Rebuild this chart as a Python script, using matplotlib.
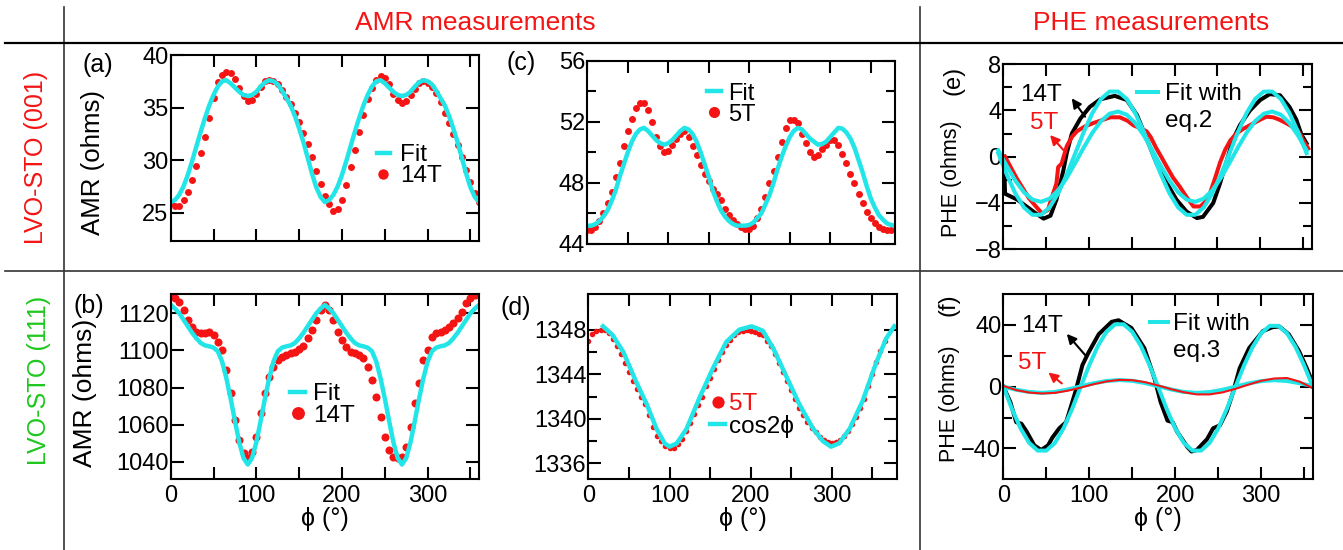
## AMR / PHE panels for LVO-STO films
import numpy as np
import matplotlib
matplotlib.use("Agg")
import matplotlib.pyplot as plt
from matplotlib.lines import Line2D
from matplotlib.ticker import MultipleLocator, FixedLocator

plt.rcParams['font.family'] = ['Liberation Sans', 'DejaVu Sans']

RED = '#f41414'
CYAN = '#22e5e8'
GREEN = '#1ec81e'

## ---------------- data ----------------
# (a) LVO-STO (001), AMR, 14T
phi_a = np.arange(0, 361, 5)
amr_a_14T = [25.9, 25.6, 25.6, 26.2, 27.0, 28.1, 29.4, 30.7, 32.2, 34.0, 35.9, 37.4, 38.1, 38.4, 38.3,
             37.7, 36.9, 36.1, 35.6, 35.7, 36.3, 37.0, 37.5, 37.6, 37.5, 37.2, 36.7, 36.0, 35.3, 34.5,
             33.6, 32.6, 31.5, 30.3, 29.0, 27.7, 26.6, 25.8, 25.2, 25.3, 26.2, 27.6, 29.3, 31.0, 32.7,
             34.3, 35.8, 36.9, 37.6, 38.0, 37.8, 37.2, 36.3, 35.7, 35.4, 35.6, 36.2, 36.8, 37.3, 37.5,
             37.3, 37.0, 36.4, 35.5, 34.5, 33.5, 32.5, 31.4, 30.3, 29.1, 27.9, 26.9, 26.0]
amr_a_fit = [26.0, 26.2, 26.7, 27.5, 28.6, 29.9, 31.3, 32.7, 34.0, 35.2, 36.2, 37.0, 37.5, 37.6, 37.3,
             36.9, 36.5, 36.2, 36.1, 36.2, 36.5, 37.0, 37.4, 37.6, 37.5, 37.2, 36.6, 35.9, 35.2, 34.2,
             33.0, 31.7, 30.2, 28.7, 27.4, 26.5, 26.0, 26.2, 26.7, 27.5, 28.6, 29.9, 31.3, 32.7, 34.0,
             35.2, 36.2, 37.0, 37.5, 37.6, 37.3, 36.9, 36.5, 36.2, 36.1, 36.2, 36.5, 37.0, 37.4, 37.6,
             37.5, 37.2, 36.6, 35.9, 35.2, 34.2, 33.0, 31.7, 30.2, 28.7, 27.4, 26.5, 26.0]

# (b) LVO-STO (111), AMR, 14T
phi_b = np.arange(0, 361, 5)
amr_b_14T = [1129.9, 1128.0, 1126.3, 1121.8, 1116.4, 1112.8, 1110.1, 1109.2, 1109.2, 1110.0, 1108.3,
             1104.7, 1100.2, 1089.4, 1076.9, 1062.5, 1051.7, 1044.5, 1041.8, 1045.4, 1053.5, 1066.1,
             1076.9, 1085.8, 1091.2, 1094.8, 1096.6, 1097.5, 1098.4, 1099.3, 1100.6, 1102.4, 1106.5,
             1111.0, 1116.4, 1121.8, 1124.5, 1121.8, 1116.4, 1110.1, 1105.6, 1102.0, 1099.3, 1098.4,
             1097.5, 1095.7, 1091.2, 1084.0, 1075.0, 1064.3, 1053.5, 1046.3, 1042.7, 1041.8, 1042.7,
             1048.1, 1058.9, 1071.5, 1082.2, 1094.8, 1100.2, 1107.4, 1109.2, 1110.1, 1111.0, 1112.8,
             1114.6, 1117.3, 1120.9, 1125.4, 1128.1, 1129.9, 1130.4]
amr_b_fit = [1124.5, 1122.5, 1120.0, 1116.5, 1113.0, 1109.5, 1106.5, 1104.0, 1102.7, 1102.2, 1101.5,
             1099.5, 1094.0, 1085.0, 1074.0, 1062.0, 1050.5, 1042.0, 1038.5, 1042.0, 1050.5, 1062.0,
             1074.0, 1085.0, 1094.0, 1099.5, 1101.5, 1102.2, 1102.7, 1104.0, 1106.5, 1109.5, 1113.0,
             1116.5, 1120.0, 1122.5, 1124.5, 1122.5, 1120.0, 1116.5, 1113.0, 1109.5, 1106.5, 1104.0,
             1102.7, 1102.2, 1101.5, 1099.5, 1094.0, 1085.0, 1074.0, 1062.0, 1050.5, 1042.0, 1038.5,
             1042.0, 1050.5, 1062.0, 1074.0, 1085.0, 1094.0, 1099.5, 1101.5, 1102.2, 1102.7, 1104.0,
             1106.5, 1109.5, 1113.0, 1116.5, 1120.0, 1122.5, 1124.5]

# (c) LVO-STO (001), AMR, 5T
phi_c = np.arange(0, 376, 5)
amr_c_5T = [44.9, 44.9, 45.1, 45.5, 46.0, 46.7, 47.4, 48.4, 49.3, 50.4, 51.4, 52.2, 52.9, 53.2, 53.2,
            52.8, 52.0, 51.0, 50.4, 50.0, 50.1, 50.5, 50.9, 51.2, 51.4, 51.0, 50.4, 49.8, 49.2, 48.6,
            48.1, 47.6, 47.3, 46.9, 46.3, 45.9, 45.6, 45.3, 45.1, 45.0, 45.0, 45.2, 45.7, 46.3, 47.1,
            48.0, 48.8, 49.7, 50.7, 51.6, 52.1, 52.1, 51.9, 51.2, 50.6, 50.0, 49.7, 49.8, 50.2, 50.5,
            50.8, 50.8, 50.5, 49.9, 49.3, 48.6, 48.0, 47.3, 46.7, 46.1, 45.7, 45.4, 45.1, 45.0, 44.9,
            44.9]
phi_c_fit = np.arange(0, 381, 5)
amr_c_fit = [45.2, 45.2, 45.3, 45.5, 45.8, 46.2, 46.8, 47.5, 48.4, 49.2, 50.0, 50.7, 51.2, 51.5, 51.6,
             51.4, 51.1, 50.8, 50.6, 50.5, 50.6, 50.8, 51.1, 51.4, 51.6, 51.5, 51.2, 50.7, 50.0, 49.2,
             48.4, 47.5, 46.8, 46.2, 45.8, 45.5, 45.3, 45.2, 45.2, 45.2, 45.25, 45.4, 45.7, 46.0, 46.6,
             47.2, 48.0, 48.9, 49.7, 50.4, 51.0, 51.4, 51.6, 51.5, 51.2, 50.9, 50.7, 50.5, 50.55, 50.7,
             51.0, 51.3, 51.6, 51.55, 51.3, 50.9, 50.3, 49.5, 48.7, 47.8, 47.0, 46.4, 45.9, 45.6, 45.35,
             45.25, 45.2]

# (d) LVO-STO (111), AMR, 5T with cos2phi
phi_d = np.arange(0, 366, 5)
amr_d_5T = [1347.0, 1347.6, 1347.9, 1348.0, 1348.0, 1347.7, 1347.2, 1346.5, 1345.8, 1345.0, 1344.2,
            1343.4, 1342.7, 1342.0, 1341.3, 1340.3, 1339.3, 1338.5, 1338.0, 1337.6, 1337.4, 1337.4,
            1337.7, 1338.2, 1338.9, 1339.6, 1340.4, 1341.2, 1342.0, 1342.9, 1343.7, 1344.5, 1345.3,
            1346.0, 1346.6, 1347.1, 1347.5, 1347.8, 1347.9, 1348.0, 1347.9, 1347.8, 1347.6, 1347.5,
            1347.0, 1346.5, 1345.8, 1345.0, 1344.2, 1343.4, 1342.6, 1341.8, 1341.0, 1340.3, 1339.7,
            1339.2, 1338.8, 1338.4, 1338.1, 1337.9, 1337.8, 1337.9, 1338.1, 1338.5, 1338.9, 1339.5,
            1340.2, 1341.0, 1341.8, 1342.9, 1344.0, 1345.1, 1346.1, 1347.0]
phi_d_fit = [18, 30, 43, 59, 72, 84, 94, 100, 109, 121, 137, 154, 170, 186, 201, 215, 228, 244, 260,
             277, 289, 299, 309, 322, 338, 354, 367, 377]
amr_d_fit = [1348.3, 1347.5, 1346.0, 1343.3, 1341.3, 1339.1, 1337.8, 1337.5, 1337.8, 1339.1, 1341.9,
             1344.6, 1346.9, 1348.0, 1348.3, 1347.9, 1346.3, 1343.8, 1341.3, 1339.1, 1338.0, 1337.5,
             1337.8, 1339.1, 1341.6, 1344.9, 1347.2, 1348.3]

# (e) LVO-STO (001), PHE
phi_e_14T = [0, 1, 2, 16, 27, 38, 47, 55, 62, 70, 74, 80, 90, 101, 113, 130, 144, 156, 167, 179, 191,
             202, 214, 226, 233, 245, 253, 261, 268, 276, 288, 300, 311, 323, 334, 342, 348, 354]
phe_e_14T = [0.0, -0.9, -3.2, -3.7, -4.3, -4.9, -5.35, -5.1, -3.7, -1.2, 0.3, 2.0, 3.3, 4.3, 4.95,
             5.25, 4.9, 3.6, 1.6, -0.6, -2.3, -3.7, -4.75, -5.3, -5.2, -4.0, -2.3, -0.3, 1.45, 2.7,
             4.0, 4.9, 5.4, 5.3, 4.3, 3.2, 1.9, 1.15]
phi_e_5T = [2, 15, 30, 45, 52, 58, 62, 64, 68, 74, 80, 86, 95, 105, 125, 136, 145, 152, 160, 167, 172,
            178, 185, 191, 198, 206, 214, 222, 230, 237, 241, 247, 253, 259, 265, 272, 280, 290, 300,
            307, 315, 322, 330, 337, 342, 347, 350, 356]
phe_e_5T = [0.0, -1.8, -3.6, -4.9, -4.6, -3.2, -2.3, -0.9, -0.6, 0.9, 1.7, 2.2, 2.6, 2.9, 3.4, 3.4,
            3.1, 2.7, 2.45, 2.2, 1.7, 0.8, -0.1, -0.9, -1.8, -2.6, -3.5, -4.3, -4.3, -3.8, -3.2, -1.9,
            -0.5, 0.6, 1.4, 2.0, 2.4, 2.8, 3.2, 3.45, 3.4, 3.2, 2.9, 2.6, 2.4, 1.9, 1.4, 0.7]
phi_e_fit = np.arange(-6, 355, 10)
phe_e_fit14 = [0.3, -1.55, -3.17, -4.38, -5.02, -5.02, -4.38, -3.17, -1.55, 0.3, 2.15, 3.77, 4.98,
               5.62, 5.62, 4.98, 3.77, 2.15, 0.3, -1.55, -3.17, -4.38, -5.02, -5.02, -4.38, -3.17,
               -1.55, 0.3, 2.15, 3.77, 4.98, 5.62, 5.62, 4.98, 3.77, 2.15, 0.3]
phe_e_fit5 = [0.54, -0.81, -2.07, -3.07, -3.71, -3.90, -3.62, -2.90, -1.83, -0.54, 0.81, 2.07, 3.07,
              3.71, 3.90, 3.62, 2.90, 1.83, 0.54, -0.81, -2.07, -3.07, -3.71, -3.90, -3.62, -2.90,
              -1.83, -0.54, 0.81, 2.07, 3.07, 3.71, 3.90, 3.62, 2.90, 1.83, 0.54]

# (f) LVO-STO (111), PHE
phi_f_14T = [0, 8, 15, 21, 27, 36, 44, 52, 57, 65, 73, 78, 84, 92, 99, 111, 126, 134, 149, 164, 176,
             183, 191, 197, 202, 214, 219, 225, 237, 244, 252, 260, 267, 275, 286, 302, 313, 321,
             332, 344, 353, 358]
phe_f_14T = [0, -9.8, -23, -24, -29, -38, -41, -38, -33, -27, -23, -14, -3, 14, 22, 34, 42, 43, 38,
             25, 5, -10, -22, -23, -29, -39, -42, -41, -34, -27, -25, -16, -4, 12, 25, 36, 38.5, 39,
             34, 23, 12, 5]
phi_f_fit = np.arange(0, 361, 10)
phe_f_fit14 = [0, -14.4, -27.0, -36.4, -41.4, -41.4, -36.4, -27.0, -14.4, 0, 14.0, 26.4, 35.5, 40.4,
               40.4, 35.5, 26.4, 14.0, 0, -14.4, -27.0, -36.4, -41.4, -41.4, -36.4, -27.0, -14.4, 0,
               13.7, 25.7, 34.6, 39.4, 39.4, 34.6, 25.7, 13.7, 0]
phi_f_5T = np.arange(0, 361, 15)
phe_f_5T = [0.5, -2.2, -3.8, -4.4, -4.0, -2.6, -0.6, 1.6, 3.4, 4.4, 4.2, 2.9, 0.8, -1.6, -3.6, -5.0,
            -5.0, -3.7, -1.4, 1.3, 3.8, 5.3, 5.6, 3.2, -1.0]
phe_f_fit5 = [0.0, -2.0, -3.4, -4.0, -3.4, -1.8, 0.2, 2.2, 3.7, 4.3, 3.8, 2.3, 0.3, -1.8, -3.4, -4.0,
              -3.5, -2.0, 0.0, 2.1, 3.6, 4.2, 3.7, 2.2, 0.4]

## ---------------- figure ----------------
TFS = 17      # tick labels
LFS = 17.5    # legends / annotations
fig = plt.figure(figsize=(13.43, 5.5), dpi=100)

def make_axes(rect, xmax, ylim, ymajor, yminor=None, xlabels=True):
    ax = fig.add_axes(rect)
    ax.set_xlim(0, xmax)
    ax.set_ylim(*ylim)
    ax.xaxis.set_major_locator(FixedLocator([0, 100, 200, 300]))
    ax.xaxis.set_minor_locator(MultipleLocator(50))
    ax.yaxis.set_major_locator(FixedLocator(ymajor))
    if yminor is not None:
        ax.yaxis.set_minor_locator(FixedLocator(yminor))
    ax.tick_params(which='both', direction='in', top=True, right=True, width=1.5,
                   labelsize=TFS, labelbottom=xlabels)
    ax.tick_params(axis='y', which='major', length=9.5, pad=1.5)
    ax.tick_params(axis='y', which='minor', length=6.5)
    ax.tick_params(axis='x', which='both', length=8.5, pad=4)
    for s in ax.spines.values():
        s.set_linewidth(1.5)
    if xlabels:
        ax.set_xlabel('ϕ (°)', fontsize=18, labelpad=0)
    return ax

def side_text(ax, x, y, s, rot=90, size=18, **kw):
    ax.text(x, y, s, transform=ax.transAxes, rotation=rot, ha='center', va='center',
            fontsize=size, **kw)

def fit_legend(ax, handles, labels, anchor, hl, pad, spacing, mscale=1.0, size=LFS):
    leg = ax.legend(handles, labels, loc='upper left', bbox_to_anchor=anchor, frameon=False,
                    borderpad=0, borderaxespad=0, handlelength=hl, handletextpad=pad,
                    labelspacing=spacing, fontsize=size, markerscale=mscale)
    return leg

def arrow(ax, head, tail, color):
    ax.annotate('', xy=head, xytext=tail,
                arrowprops=dict(arrowstyle='-|>', color=color, lw=1.5, mutation_scale=14,
                                shrinkA=0, shrinkB=0))

## (a)
ax = make_axes([0.1271, 0.5618, 0.2296, 0.3382], 360, (22.3, 40), [25, 30, 35, 40], xlabels=False)
d, = ax.plot(phi_a, amr_a_14T, 'o', color=RED, ms=5, mew=0)
f, = ax.plot(phi_a, amr_a_fit, '-', color=CYAN, lw=3.2)
fit_legend(ax, [f, d], ['Fit', '14T'], (0.668, 0.52), 0.55, 0.41, -0.04, 1.5)
side_text(ax, -0.252, 0.422, 'AMR (ohms)', size=18.6)
side_text(ax, -0.236, 0.948, '(a)', rot=0)

## (b)
ax = make_axes([0.1271, 0.1291, 0.2296, 0.3364], 360, (1030.7, 1130.4),
               [1040, 1060, 1080, 1100, 1120])
d, = ax.plot(phi_b, amr_b_14T, 'o', color=RED, ms=5.8, mew=0)
f, = ax.plot(phi_b, amr_b_fit, '-', color=CYAN, lw=3.2)
fit_legend(ax, [f, d], ['Fit', '14T'], (0.387, 0.518), 0.62, 0.34, -0.01, 1.6)
side_text(ax, -0.278, 0.465, 'AMR (ohms)', size=19)
side_text(ax, -0.265, 0.935, '(b)', rot=0)

## (c)
ax = make_axes([0.4373, 0.5564, 0.2291, 0.3333], 380, (44, 56), [44, 48, 52, 56], [46, 50, 54],
               xlabels=False)
d, = ax.plot(phi_c, amr_c_5T, 'o', color=RED, ms=5, mew=0)
f, = ax.plot(phi_c_fit, amr_c_fit, '-', color=CYAN, lw=3.2)
fit_legend(ax, [f, d], ['Fit', '5T'], (0.388, 0.88), 0.62, 0.27, -0.04, 1.6, size=17)
side_text(ax, -0.215, 0.987, '(c)', rot=0)

## (d)
ax = make_axes([0.4381, 0.1291, 0.2296, 0.3364], 380, (1334.6, 1351.2),
               [1336, 1340, 1344, 1348], [1338, 1342, 1346])
d, = ax.plot(phi_d, amr_d_5T, 'o', color=RED, ms=4, mew=0)
f, = ax.plot(phi_d_fit, amr_d_fit, '-', color=CYAN, lw=3.2)
leg = fit_legend(ax, [d, f], ['5T', 'cos2ϕ'], (0.395, 0.464), 0.62, 0.14, -0.01, 2.2)
leg.get_texts()[0].set_color(RED)
side_text(ax, -0.234, 0.924, '(d)', rot=0)

## (e)
ax = make_axes([0.7471, 0.5467, 0.2296, 0.3369], 360, (-8, 8), [-8, -4, 0, 4, 8], [-6, -2, 2, 6],
               xlabels=False)
ax.plot(phi_e_14T, phe_e_14T, '-', color='k', lw=2.9)
ax.plot(phi_e_5T, phe_e_5T, '-', color=RED, lw=2.9)
f, = ax.plot(phi_e_fit, phe_e_fit14, '-', color=CYAN, lw=2.9, clip_on=False)
ax.plot(phi_e_fit, phe_e_fit5, '-', color=CYAN, lw=2.9, clip_on=False)
blank = Line2D([], [], linestyle='none')
fit_legend(ax, [f, blank], ['Fit with', 'eq.2'], (0.4325, 0.896), 0.89, 0.27, 0.19)
arrow(ax, (79.8, 5.04), (95.4, 3.45), 'k')
arrow(ax, (54.5, 1.87), (70, 0.58), RED)
ax.text(43.4, 5.3, '14T', ha='center', va='center', fontsize=LFS)
ax.text(47.7, 2.9, '5T', ha='center', va='center', fontsize=LFS, color=RED)
side_text(ax, -0.167, 0.383, 'PHE (ohms)', size=15.5)
side_text(ax, -0.162, 0.914, '(e)', size=17)

## (f)
ax = make_axes([0.7471, 0.1285, 0.2304, 0.3369], 360, (-60, 60), [-40, 0, 40], [-20, 20])
ax.plot(phi_f_14T, phe_f_14T, '-', color='k', lw=2.9)
f, = ax.plot(phi_f_fit, phe_f_fit14, '-', color=CYAN, lw=2.9)
ax.plot(phi_f_5T, phe_f_fit5, '-', color=CYAN, lw=2.9)
ax.plot(phi_f_5T, phe_f_5T, '-', color=RED, lw=1.5)
fit_legend(ax, [f, blank], ['Fit with', 'eq.3'], (0.474, 0.896), 0.75, 0.2, 0.19)
arrow(ax, (73.8, 34.2), (97, 19.3), 'k')
arrow(ax, (52.4, 9.2), (68, 2.1), RED)
ax.text(44.7, 39.2, '14T', ha='center', va='center', fontsize=LFS)
ax.text(33, 15.4, '5T', ha='center', va='center', fontsize=LFS, color=RED)
side_text(ax, -0.175, 0.406, 'PHE (ohms)', size=15.5)
side_text(ax, -0.178, 0.94, '(f)', size=17)

## table frame, headers and row labels
W, H = 1343.0, 550.0
fig.add_artist(Line2D([63.5 / W, 63.5 / W], [0, 1 - 7 / H], color='#333333', lw=1.2))
fig.add_artist(Line2D([920 / W, 920 / W], [0, 1 - 7 / H], color='#333333', lw=1.2))
fig.add_artist(Line2D([5 / W, 1], [1 - 42.5 / H, 1 - 42.5 / H], color='k', lw=1.6))
fig.add_artist(Line2D([5 / W, 1], [1 - 271 / H, 1 - 271 / H], color='#333333', lw=1.2))

fig.text(475.7 / W, 1 - 22.5 / H, 'AMR measurements', color=RED, fontsize=19,
         ha='center', va='center')
fig.text(1151.5 / W, 1 - 22.5 / H, 'PHE measurements', color=RED, fontsize=19,
         ha='center', va='center')
fig.text(36.5 / W, 1 - 157 / H, 'LVO-STO (001)', color=RED, fontsize=18, rotation=90,
         ha='center', va='center')
fig.text(39 / W, 1 - 380.5 / H, 'LVO-STO (111)', color=GREEN, fontsize=18, rotation=90,
         ha='center', va='center')

fig.savefig('out.png', dpi=100)
